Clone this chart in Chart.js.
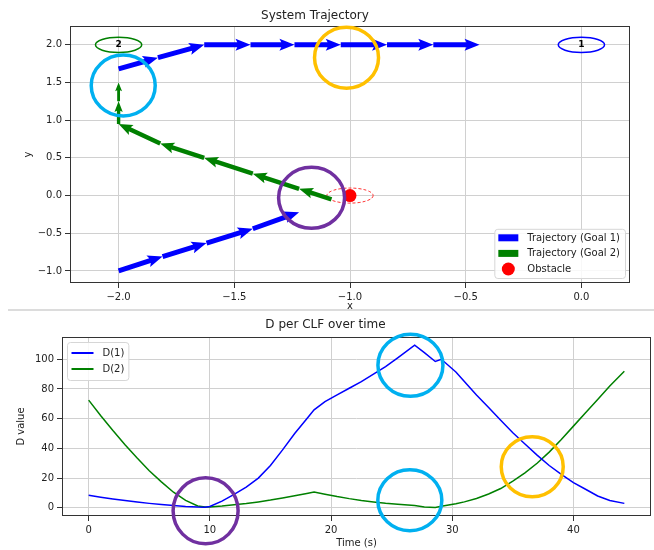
<!DOCTYPE html>
<html>
<head>
<meta charset="utf-8">
<script src="https://cdn.jsdelivr.net/npm/chart.js@4.4.1/dist/chart.umd.min.js"></script>
<style>
  body { margin: 0; background: #fff; }
  #page { position: relative; width: 654px; height: 550px; overflow: hidden; background: #fff; }
  #topBox { position: absolute; left: 0; top: 0; width: 654px; height: 310px; overflow: hidden; }
  #sep { position: absolute; left: 8px; top: 309px; width: 646px; height: 2px; background: #dcdcdc; z-index: 2; }
  #botBox { position: absolute; left: 0; top: 310px; width: 654px; height: 240px; }
</style>
</head>
<body>
<div id="page">
  <div id="topBox"><canvas id="traj" width="654" height="322"></canvas></div>
  <div id="sep"></div>
  <div id="botBox"><canvas id="dplot" width="654" height="240"></canvas></div>
</div>
<script>
// ---- trajectory (top plot) ----
const goal1X = [-2.0, -1.81, -1.62, -1.42, -1.22, null, -2.0, -1.83, -1.63, -1.43, -1.24, -1.04, -0.84, -0.64, -0.44];
const goal1Y = [-1.0, -0.81, -0.63, -0.44, -0.22, null, 1.68, 1.83, 2.0, 2.0, 2.0, 2.0, 2.0, 2.0, 2.0];
const goal2X = [-1.08, -1.22, -1.42, -1.63, -1.82, -2.0, -2.0, -2.0];
const goal2Y = [-0.05, 0.09, 0.29, 0.5, 0.69, 0.95, 1.25, 1.5];
const obstacleX = [-1.0];
const obstacleY = [0.0];
const goalX = [0.0, -2.0];
const goalY = [2.0, 2.0];
const goalLabels = ['1', '2'];
const xTicksTop = [-2.0, -1.5, -1.0, -0.5, 0.0];
const yTicksTop = [-1.0, -0.5, 0.0, 0.5, 1.0, 1.5, 2.0];

// ---- D per CLF (bottom plot) ----
const times = [0, 1, 2, 3, 4, 5, 6, 7, 8, 9, 9.6, 10, 11, 12, 13, 14, 15, 16, 17, 18, 18.6,
  19.5, 20.5, 21.5, 22.5, 23.5, 24.5, 25.5, 26.9, 27.7, 28.6, 29.1, 30.3,
  31, 32, 33, 34, 35, 36, 37, 38, 39, 40, 41, 42, 43, 44.2];
const d1 = [8.4, 7.2, 6.0, 4.9, 3.9, 3.0, 2.2, 1.5, 0.9, 0.5, 0.4, 0.9, 4.5, 9, 14, 20, 28.5, 39, 50, 60, 66,
  71.5, 76, 80.5, 85, 90, 95, 101, 109.5, 104.5, 98.5, 100, 91.5,
  85, 76, 67.5, 59, 50.5, 43, 35.5, 28.5, 22.5, 17, 12.5, 8, 5, 3];
const d2 = [72.5, 62, 52, 42.5, 33.5, 25, 17.5, 10.5, 5, 1.2, 0.5, 0.6, 1.2, 2, 2.9, 4, 5.2, 6.6, 8.1, 9.7, 10.6,
  9.2, 7.6, 6.2, 5, 4, 3.1, 2.4, 1.5, 0.6, 0.3, 1, 2.8,
  4, 6.3, 9.3, 13, 18, 23.5, 30, 37.5, 46, 55, 64, 73, 82, 92];
const xTicksBot = [0, 10, 20, 30, 40];
const yTicksBot = [0, 20, 40, 60, 80, 100];

// hand-drawn highlight rings (centre in data units)
const topRings = [
  { x: -1.98, y: 1.46, rx: 32, ry: 30.5, color: '#00b0f0' },
  { x: -1.015, y: 1.83, rx: 32, ry: 30.5, color: '#ffc000' },
  { x: -1.166, y: -0.03, rx: 33, ry: 30.5, color: '#7030a0' }
];
const botRings = [
  { x: 9.65, y: -2, rx: 32.5, ry: 33, color: '#7030a0' },
  { x: 26.55, y: 96, rx: 32.5, ry: 31, color: '#00b0f0' },
  { x: 26.5, y: 5.1, rx: 32, ry: 30.5, color: '#00b0f0' },
  { x: 36.6, y: 27.7, rx: 31, ry: 30, color: '#ffc000' }
];

Chart.defaults.font.family = '"DejaVu Sans", sans-serif';
Chart.defaults.font.size = 10;
Chart.defaults.color = '#222';

const pts = (xs, ys) => xs.map((x, i) => ({ x: x, y: ys[i] }));
const minus = v => String(v).replace('-', '\u2212');

function drawArrow(ctx, ax, ay, bx, by, st) {
  const dx = bx - ax, dy = by - ay, len = Math.hypot(dx, dy);
  if (!len) return;
  const k = Math.min(1, len / st.full);
  const w = st.shaft * k / 2, hl = st.headLen * k, hw = st.headW * k / 2, ha = hl * 0.88;
  const ux = dx / len, uy = dy / len, nx = -uy, ny = ux;
  const poly = [[0, w], [len - ha, w], [len - hl, hw], [len, 0], [len - hl, -hw], [len - ha, -w], [0, -w]];
  ctx.beginPath();
  poly.forEach(([s, t], i) => {
    const px = ax + ux * s + nx * t, py = ay + uy * s + ny * t;
    if (i) ctx.lineTo(px, py); else ctx.moveTo(px, py);
  });
  ctx.closePath();
  ctx.fill();
}

const quiverPlugin = {
  id: 'quiver',
  afterDatasetsDraw(chart) {
    const ctx = chart.ctx;
    chart.data.datasets.forEach((ds, i) => {
      if (!ds.quiver) return;
      const els = chart.getDatasetMeta(i).data;
      ctx.save();
      ctx.fillStyle = ds.backgroundColor;
      for (let k = 1; k < els.length; k++) {
        const a = els[k - 1], b = els[k];
        if (a.skip || b.skip) continue;
        drawArrow(ctx, a.x, a.y, b.x, b.y, ds.quiver);
      }
      ctx.restore();
    });
  }
};

function ellipse(ctx, cx, cy, rx, ry) {
  ctx.beginPath();
  ctx.ellipse(cx, cy, rx, ry, 0, 0, Math.PI * 2);
  ctx.stroke();
}

const framePlugin = {
  id: 'frame',
  afterDatasetsDraw(chart) {
    const { ctx, chartArea: a } = chart;
    ctx.save();
    ctx.strokeStyle = '#333';
    ctx.lineWidth = 1;
    ctx.strokeRect(Math.round(a.left) + 0.5, Math.round(a.top) + 0.5, Math.round(a.right - a.left) - 1, Math.round(a.bottom - a.top) - 1);
    ctx.restore();
  }
};

const goalsPlugin = {
  id: 'goals',
  beforeDatasetsDraw(chart) {
    const { ctx, scales: { x, y } } = chart;
    const r = 0.1;
    ctx.save();
    // obstacle safety margin
    ctx.strokeStyle = '#ff3030';
    ctx.lineWidth = 1;
    ctx.setLineDash([3, 2]);
    obstacleX.forEach((ox, i) => {
      const cx = x.getPixelForValue(ox), cy = y.getPixelForValue(obstacleY[i]);
      ellipse(ctx, cx, cy, x.getPixelForValue(ox + r) - cx, cy - y.getPixelForValue(obstacleY[i] + r));
    });
    ctx.setLineDash([]);
    // goal markers
    const colors = ['blue', 'green'];
    goalX.forEach((gx, i) => {
      const cx = x.getPixelForValue(gx), cy = y.getPixelForValue(goalY[i]);
      ctx.strokeStyle = colors[i];
      ctx.lineWidth = 1.5;
      ellipse(ctx, cx, cy, x.getPixelForValue(gx + r) - cx, cy - y.getPixelForValue(goalY[i] + r));
      ctx.fillStyle = '#000';
      ctx.font = 'bold 9px "DejaVu Sans"';
      ctx.textAlign = 'center';
      ctx.textBaseline = 'middle';
      ctx.fillText(goalLabels[i], cx, cy);
    });
    ctx.restore();
  }
};

const boxLegend = {
  id: 'boxLegend',
  afterDraw(chart, args, o) {
    const { ctx, chartArea: a } = chart;
    const items = chart.data.datasets.filter(d => d.handle);
    ctx.save();
    ctx.font = '10px "DejaVu Sans"';
    const tw = Math.max(...items.map(d => ctx.measureText(d.label).width));
    const w = o.padL + o.handleW + o.gap + tw + o.padR;
    const h = o.padTop * 2 + (items.length - 1) * o.row;
    const x0 = o.corner === 'br' ? a.right - o.inset - w : a.left + o.inset;
    const y0 = o.corner === 'br' ? a.bottom - o.inset - h : a.top + o.inset;
    ctx.fillStyle = 'rgba(255,255,255,0.85)';
    ctx.strokeStyle = '#d6d6d6';
    ctx.lineWidth = 1;
    ctx.beginPath();
    ctx.roundRect(x0 + 0.5, y0 + 0.5, w, h, 3);
    ctx.fill();
    ctx.stroke();
    items.forEach((d, i) => {
      const cy = y0 + o.padTop + i * o.row;
      const hx = x0 + o.padL;
      ctx.fillStyle = d.backgroundColor;
      ctx.strokeStyle = d.borderColor;
      if (d.handle === 'rect') {
        ctx.fillRect(hx, cy - 3.5, o.handleW, 7);
      } else if (d.handle === 'line') {
        ctx.lineWidth = 2;
        ctx.beginPath();
        ctx.moveTo(hx, cy);
        ctx.lineTo(hx + o.handleW, cy);
        ctx.stroke();
      } else {
        ctx.beginPath();
        ctx.arc(hx + o.handleW / 2, cy, 6.5, 0, Math.PI * 2);
        ctx.fill();
      }
      ctx.fillStyle = '#222';
      ctx.textAlign = 'left';
      ctx.textBaseline = 'middle';
      ctx.fillText(d.label, hx + o.handleW + o.gap, cy + 0.5);
    });
    ctx.restore();
  }
};

const ringsPlugin = {
  id: 'rings',
  afterDraw(chart, args, o) {
    const { ctx, scales: { x, y } } = chart;
    ctx.save();
    ctx.lineWidth = 3.5;
    o.rings.forEach(r => {
      ctx.strokeStyle = r.color;
      ellipse(ctx, x.getPixelForValue(r.x), y.getPixelForValue(r.y), r.rx, r.ry);
    });
    ctx.restore();
  }
};

function axis(min, max, tickList, fmt, size, title, titlePad) {
  return {
    type: 'linear',
    min: min,
    max: max,
    afterBuildTicks: s => { s.ticks = tickList.map(v => ({ value: v })); },
    afterFit: s => { if (s.isHorizontal()) s.height = size; else s.width = size; },
    ticks: { font: { size: 10 }, color: '#222', padding: 3, callback: fmt, autoSkip: false, maxRotation: 0 },
    grid: { color: '#d0d0d0', lineWidth: 1, tickColor: '#333', tickLength: 5 },
    border: { display: false },
    title: { display: true, text: title, font: { size: 10 }, color: '#222', padding: titlePad }
  };
}

new Chart(document.getElementById('traj'), {
  type: 'line',
  data: {
    datasets: [
      {
        label: 'Trajectory (Goal 1)',
        data: pts(goal1X, goal1Y),
        showLine: false,
        pointRadius: 0,
        backgroundColor: 'blue',
        borderColor: 'blue',
        handle: 'rect',
        quiver: { shaft: 5, headLen: 15, headW: 12, full: 30 },
        order: 1
      },
      {
        label: 'Trajectory (Goal 2)',
        data: pts(goal2X, goal2Y),
        showLine: false,
        pointRadius: 0,
        backgroundColor: 'green',
        borderColor: 'green',
        handle: 'rect',
        quiver: { shaft: 4.5, headLen: 14, headW: 11, full: 30 },
        order: 2
      },
      {
        label: 'Obstacle',
        data: pts(obstacleX, obstacleY),
        showLine: false,
        pointRadius: 6.5,
        pointBackgroundColor: 'red',
        pointBorderWidth: 0,
        backgroundColor: 'red',
        borderColor: 'red',
        handle: 'circle',
        order: 3
      }
    ]
  },
  options: {
    responsive: false,
    animation: false,
    events: [],
    layout: { padding: { left: 0, right: 24, top: 0, bottom: 0 } },
    scales: {
      x: axis(-2.21, 0.21, xTicksTop, v => minus(v.toFixed(1)), 39, 'x', { top: 0, bottom: 10 }),
      y: axis(-1.16, 2.25, yTicksTop, v => minus(v.toFixed(1)), 70, 'y', { top: 22, bottom: 0 })
    },
    plugins: {
      legend: { display: false },
      tooltip: { enabled: false },
      title: {
        display: true,
        text: 'System Trajectory',
        font: { size: 12, weight: 'normal' },
        color: '#222',
        padding: { top: 8.5, bottom: 3.1 }
      },
      boxLegend: { corner: 'br', inset: 5, padL: 4, handleW: 20, gap: 9, padR: 5, padTop: 9, row: 15.6 },
      rings: { rings: topRings }
    }
  },
  plugins: [goalsPlugin, quiverPlugin, framePlugin, boxLegend, ringsPlugin]
});

new Chart(document.getElementById('dplot'), {
  type: 'line',
  data: {
    datasets: [
      { label: 'D(1)', data: pts(times, d1), borderColor: 'blue', backgroundColor: 'blue', borderWidth: 1.5, pointRadius: 0, tension: 0, handle: 'line' },
      { label: 'D(2)', data: pts(times, d2), borderColor: 'green', backgroundColor: 'green', borderWidth: 1.5, pointRadius: 0, tension: 0, handle: 'line' }
    ]
  },
  options: {
    responsive: false,
    animation: false,
    events: [],
    layout: { padding: { left: 0, right: 3, top: 0, bottom: 0 } },
    scales: {
      x: axis(-2.2, 46.4, xTicksBot, v => String(v), 34, 'Time (s)', { top: 0, bottom: 1 }),
      y: axis(-5.5, 115, yTicksBot, v => String(v), 62, 'D value', { top: 15.5, bottom: 0 })
    },
    plugins: {
      legend: { display: false },
      tooltip: { enabled: false },
      title: {
        display: true,
        text: 'D per CLF over time',
        font: { size: 12, weight: 'normal' },
        color: '#222',
        padding: { top: 7.5, bottom: 5.1 }
      },
      boxLegend: { corner: 'tl', inset: 5, padL: 4.5, handleW: 22, gap: 9, padR: 4, padTop: 11, row: 16 },
      rings: { rings: botRings }
    }
  },
  plugins: [framePlugin, boxLegend, ringsPlugin]
});
</script>
</body>
</html>
